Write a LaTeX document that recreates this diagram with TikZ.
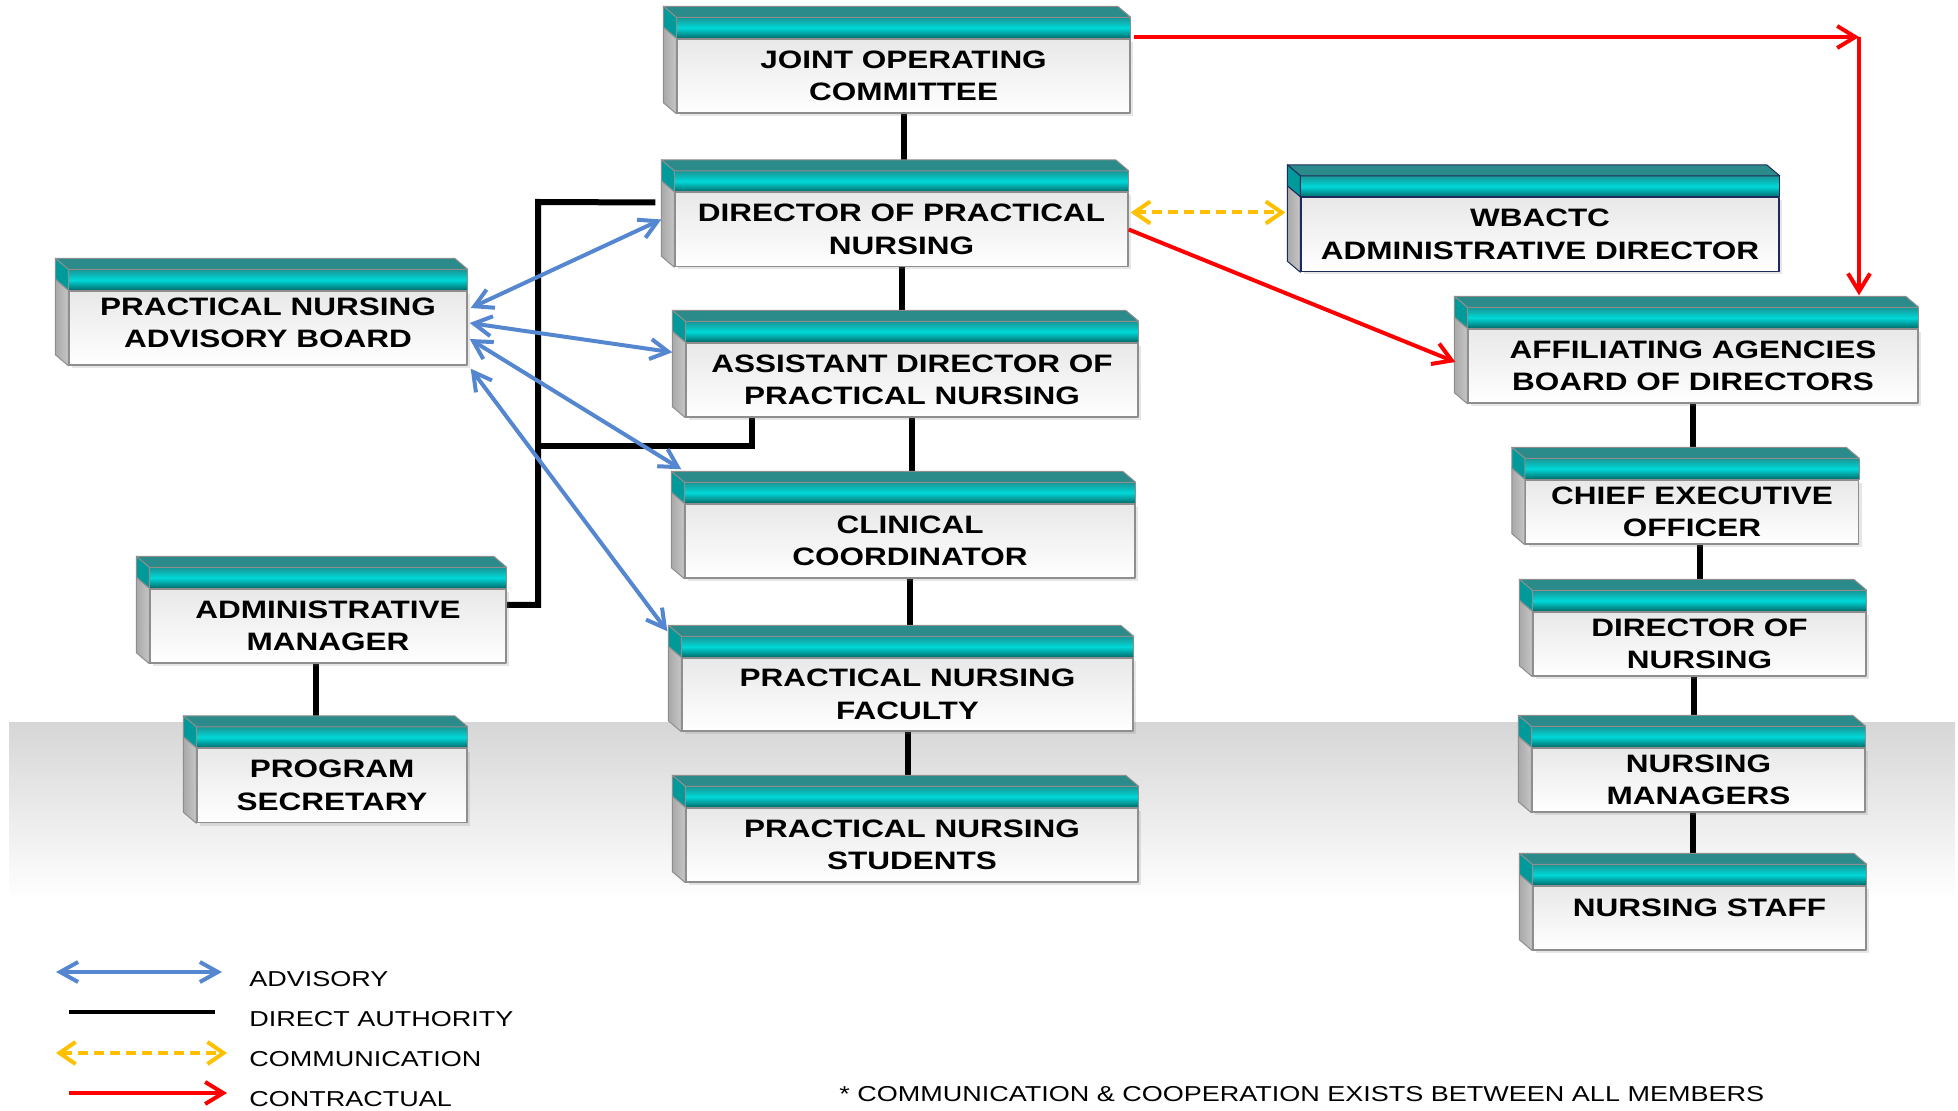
\documentclass[tikz,border=0pt]{standalone}
\usepackage{fontspec}
\setmainfont{Liberation Sans}[FakeStretch=1.25]
\usetikzlibrary{arrows.meta,calc,shadows}
\pgfdeclarelayer{background}
\pgfsetlayers{background,main}
\definecolor{bandtop}{HTML}{1A9494}
\definecolor{bandmid}{HTML}{00D8D8}
\definecolor{bandbot}{HTML}{006A6A}
\definecolor{topface}{HTML}{2B8A8A}
\definecolor{bandside}{HTML}{009A9A}
\definecolor{bodyside}{HTML}{C6C6C6}
\definecolor{boxline}{HTML}{8E8E8E}
\definecolor{navyline}{HTML}{1F2A5C}
\definecolor{advblue}{HTML}{5587D0}
\definecolor{comyellow}{HTML}{FFC000}
\definecolor{conred}{HTML}{FF0000}
\tikzset{
  unit/.style={draw=boxline, line width=0.7pt, top color=black!9, bottom color=white,
    minimum height=37pt, inner sep=0pt, align=center,
    font=\fontsize{12.6}{16.2}\selectfont\bfseries,
    drop shadow={shadow xshift=1.5pt, shadow yshift=-1.5pt, opacity=0.2}},
  short/.style={minimum height=32pt},
  legtext/.style={anchor=west, inner sep=0pt, font=\fontsize{10.8}{13}\selectfont},
  authority/.style={line width=3pt, black},
  advisory/.style={line width=2pt, advblue,
    {Straight Barb[length=9pt,width=10pt]}-{Straight Barb[length=9pt,width=10pt]}},
  commun/.style={line width=2pt, comyellow, dash pattern=on 5pt off 3pt,
    {Straight Barb[length=8pt,width=11pt]}-{Straight Barb[length=8pt,width=11pt]}},
  contract/.style={line width=2pt, conred, -{Straight Barb[length=9pt,width=11pt]}}
}
\begin{document}
\begin{tikzpicture}[x=0.5pt,y=-0.5pt,line join=round]
	\useasboundingbox (0,0) rectangle (1958,1111);
	%centre column
	\node[unit, minimum width=226.5pt] (joc) at (903.5,76) {JOINT OPERATING\\COMMITTEE};
	\node[unit, minimum width=226.5pt] (dpn) at (901.5,229.5) {DIRECTOR OF PRACTICAL\\NURSING};
	\node[unit, minimum width=226pt] (adpn) at (912,380) {ASSISTANT DIRECTOR OF\\PRACTICAL NURSING};
	\node[unit, minimum width=225pt] (cc) at (910,541) {CLINICAL\\COORDINATOR};
	\node[unit, minimum width=225.5pt, minimum height=36.5pt] (pnf) at (907.5,694.5) {PRACTICAL NURSING\\FACULTY};
	\node[unit, minimum width=226pt] (pns) at (912,845) {PRACTICAL NURSING\\STUDENTS};
	%left column
	\node[unit, minimum width=199pt, text depth=5pt] (pnab) at (268,328) {PRACTICAL NURSING\\ADVISORY BOARD};
	\node[unit, minimum width=178pt] (am) at (328,626) {ADMINISTRATIVE\\MANAGER};
	\node[unit, minimum width=135pt] (ps) at (332,785.5) {PROGRAM\\SECRETARY};
	%right column
	\node[unit, draw=navyline, minimum width=239pt] (wba) at (1540,234.5) {WBACTC\\ADMINISTRATIVE DIRECTOR};
	\node[unit, minimum width=225pt] (aab) at (1693,366) {AFFILIATING AGENCIES\\BOARD OF DIRECTORS};
	\node[unit, short, minimum width=166.5pt] (ceo) at (1692,512) {CHIEF EXECUTIVE\\OFFICER};
	\node[unit, short, minimum width=166.5pt] (don) at (1699.5,644) {DIRECTOR OF\\NURSING};
	\node[unit, short, minimum width=166.5pt] (nm) at (1698.5,780) {NURSING\\MANAGERS};
	\node[unit, short, minimum width=166.5pt, text depth=10pt] (ns) at (1699.5,918) {NURSING STAFF};

	%teal band, top and left faces
	\foreach \n/\c in {joc/boxline, dpn/boxline, adpn/boxline, cc/boxline, pnf/boxline,
		pns/boxline, pnab/boxline, am/boxline, ps/boxline, wba/navyline, aab/boxline,
		ceo/boxline, don/boxline, nm/boxline, ns/boxline} {
		\shadedraw[top color=bandtop, bottom color=bandbot, middle color=bandmid,
			draw=\c, line width=0.5pt]
		(\n.north west) rectangle ($(\n.north east)+(0,-21)$);
		\filldraw[fill=topface, draw=\c, line width=0.5pt]
		($(\n.north west)+(0,-21)$) -- ($(\n.north east)+(0,-21)$) -- ++(-13,-11)
		-- ($(\n.north west)+(-13,-32)$) -- cycle;
		\filldraw[fill=bandside, draw=\c, line width=0.5pt]
		(\n.north west) -- ++(0,-21) -- ++(-13,-11) -- ++(0,21) -- cycle;
		\shadedraw[left color=bodyside!85!black, right color=bodyside, draw=\c, line width=0.5pt]
		(\n.north west) -- (\n.south west) -- ++(-13,-11)
		-- ($(\n.north west)+(-13,-11)$) -- cycle;
	}

	\begin{pgfonlayer}{background}
	\shade[top color=black!16, bottom color=white] (9,722) rectangle (1955,900);
	%direct authority
	\draw[authority] (joc) -- (joc |- dpn);
	\draw[authority] (dpn) -- (dpn |- adpn);
	\draw[authority] (adpn) -- (adpn |- cc);
	\draw[authority] (cc) -- (cc |- pnf);
	\draw[authority] (pnf) -- (pnf |- pns);
	\draw[authority] ($(am)+(-12,0)$) -- ($(am |- ps)+(-12,0)$);
	\draw[authority] (aab) -- (aab |- ceo);
	\draw[authority] (don |- ceo) -- (don);
	\draw[authority] ($(don)+(-6,0)$) -- ($(don |- nm)+(-6,0)$);
	\draw[authority] ($(nm)+(-6,0)$) -- ($(nm |- ns)+(-6,0)$);
	\coordinate (brk) at (538,202);
	\draw[authority] ($(dpn.west)+(-19,-27)$) -- (brk) -- (brk |- 0,605) -- (am.east |- 0,605);
	\draw[authority] (brk |- 0,446) -| ($(adpn.south west)+(67,0)$);
	\end{pgfonlayer}

	%advisory
	\draw[advisory] ($(pnab.east)+(3,-20)$) -- ($(dpn.west)+(-13,-10)$);
	\draw[advisory] ($(pnab.east)+(2,-5)$) -- ($(adpn.north west)+(-13,10)$);
	\draw[advisory] ($(pnab.east)+(2,11)$) -- ($(cc.north west)+(-3,-34)$);
	\draw[advisory] ($(pnab.south east)+(3,3)$) -- ($(pnf.north west)+(-14,-26)$);
	%communication
	\draw[commun] ($(dpn.east)+(2,-17)$) -- ($(wba.west)+(-15,-22)$);
	%contractual
	\coordinate (cnr) at (1859,37);
	\draw[contract] ($(joc.north east |- cnr)+(3,0)$) -- (cnr);
	\draw[contract] (cnr) -- ($(aab.north -| cnr)+(0,-33)$);
	\draw[contract] (dpn.east) -- ($(aab.west)+(-12,-4)$);

	%legend
	\coordinate (adv1) at (56,972);
	\coordinate (adv2) at (222,972);
	\coordinate (dir1) at (69,1012);
	\coordinate (dir2) at (215,1012);
	\coordinate (com1) at (56,1053);
	\coordinate (com2) at (227,1053);
	\coordinate (con1) at (69,1093);
	\coordinate (con2) at (227,1093);
	\draw[advisory] (adv1) -- (adv2);
	\draw[line width=2pt] (dir1) -- (dir2);
	\draw[commun] (com1) -- (com2);
	\draw[contract] (con1) -- (con2);
	\node[legtext] (ladv) at (249,979) {ADVISORY};
	\node[legtext] (ldir) at (249,1019) {DIRECT AUTHORITY};
	\node[legtext] (lcom) at (249,1059) {COMMUNICATION};
	\node[legtext] (lcon) at (249,1099) {CONTRACTUAL};
	\node[legtext] (note) at (839,1094) {* COMMUNICATION \& COOPERATION EXISTS BETWEEN ALL MEMBERS};
\end{tikzpicture}
\end{document}
